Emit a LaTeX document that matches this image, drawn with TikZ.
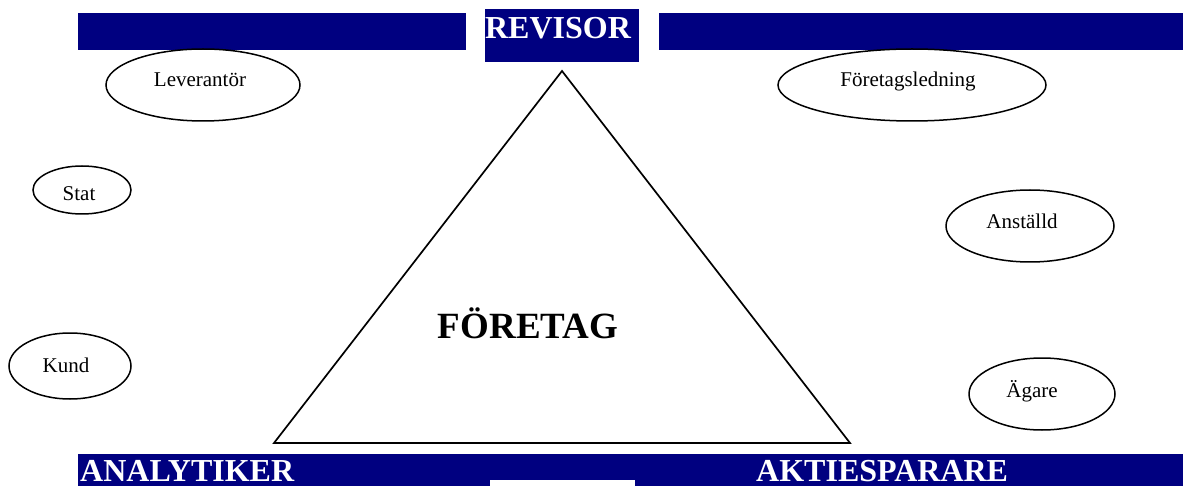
\documentclass[tikz,border=0pt]{standalone}
\usepackage{fontspec}
\setmainfont{Liberation Serif}
\usetikzlibrary{shapes.geometric}
\definecolor{navy}{RGB}{0,0,128}
\tikzset{
  bar/.style={fill=navy, draw=none},
  whitebox/.style={fill=white, draw=none},
  bartext/.style={text=white, font=\bfseries\fontsize{32}{36}\selectfont, inner sep=0pt},
  oval/.style={ellipse, draw=black, line width=1.5pt, inner sep=0pt},
  lbl/.style={font=\fontsize{21}{24}\selectfont, inner sep=0pt, anchor=base},
  tri/.style={draw=black, line width=1.7pt, line join=miter},
  bigtext/.style={font=\bfseries\fontsize{37}{42}\selectfont, inner sep=0pt, anchor=base}
}
\begin{document}
\begin{tikzpicture}[x=1pt, y=-1pt]
\useasboundingbox (0,0) rectangle (1183,486);
\fill[white] (0,0) rectangle (1183,486);
% top bars
\fill[bar] (78,13) rectangle (466,50);
\fill[bar] (485,9) rectangle (639,62);
\fill[bar] (659,13) rectangle (1183,50);
\node[bartext, anchor=base] (revisor) at (558,39) {REVISOR};
% bottom bar
\fill[bar] (78,454) rectangle (1183,487);
\fill[whitebox] (490,480) rectangle (635,487);
\node[bartext, anchor=base west] (analytiker) at (80,481) {ANALYTIKER};
\node[bartext, anchor=base west] (aktiesparare) at (756,481) {AKTIESPARARE};
% triangle
\coordinate (apex) at (562,71);
\coordinate (bl) at (274,443);
\coordinate (br) at (850,443);
\draw[tri] (apex) -- (br) -- (bl) -- cycle;
\node[bigtext] (foretag) at (528,338) {FÖRETAG};
% ovals
\node[oval, minimum width=194pt, minimum height=72pt] (lev) at (203,85) {};
\node[lbl] (levt) at (200,87) {Leverantör};
\node[oval, minimum width=268pt, minimum height=72pt] (ledn) at (912,85) {};
\node[lbl] (lednt) at (908,87) {Företagsledning};
\node[oval, minimum width=98pt, minimum height=48pt] (stat) at (82,190) {};
\node[lbl] (statt) at (79,201) {Stat};
\node[oval, minimum width=122pt, minimum height=66pt] (kund) at (70,366) {};
\node[lbl] (kundt) at (66,372) {Kund};
\node[oval, minimum width=168pt, minimum height=72pt] (anst) at (1030,226) {};
\node[lbl] (anstt) at (1022,229) {Anställd};
\node[oval, minimum width=146pt, minimum height=72pt] (agare) at (1042,394) {};
\node[lbl] (agaret) at (1032,397) {Ägare};
\end{tikzpicture}
\end{document}
